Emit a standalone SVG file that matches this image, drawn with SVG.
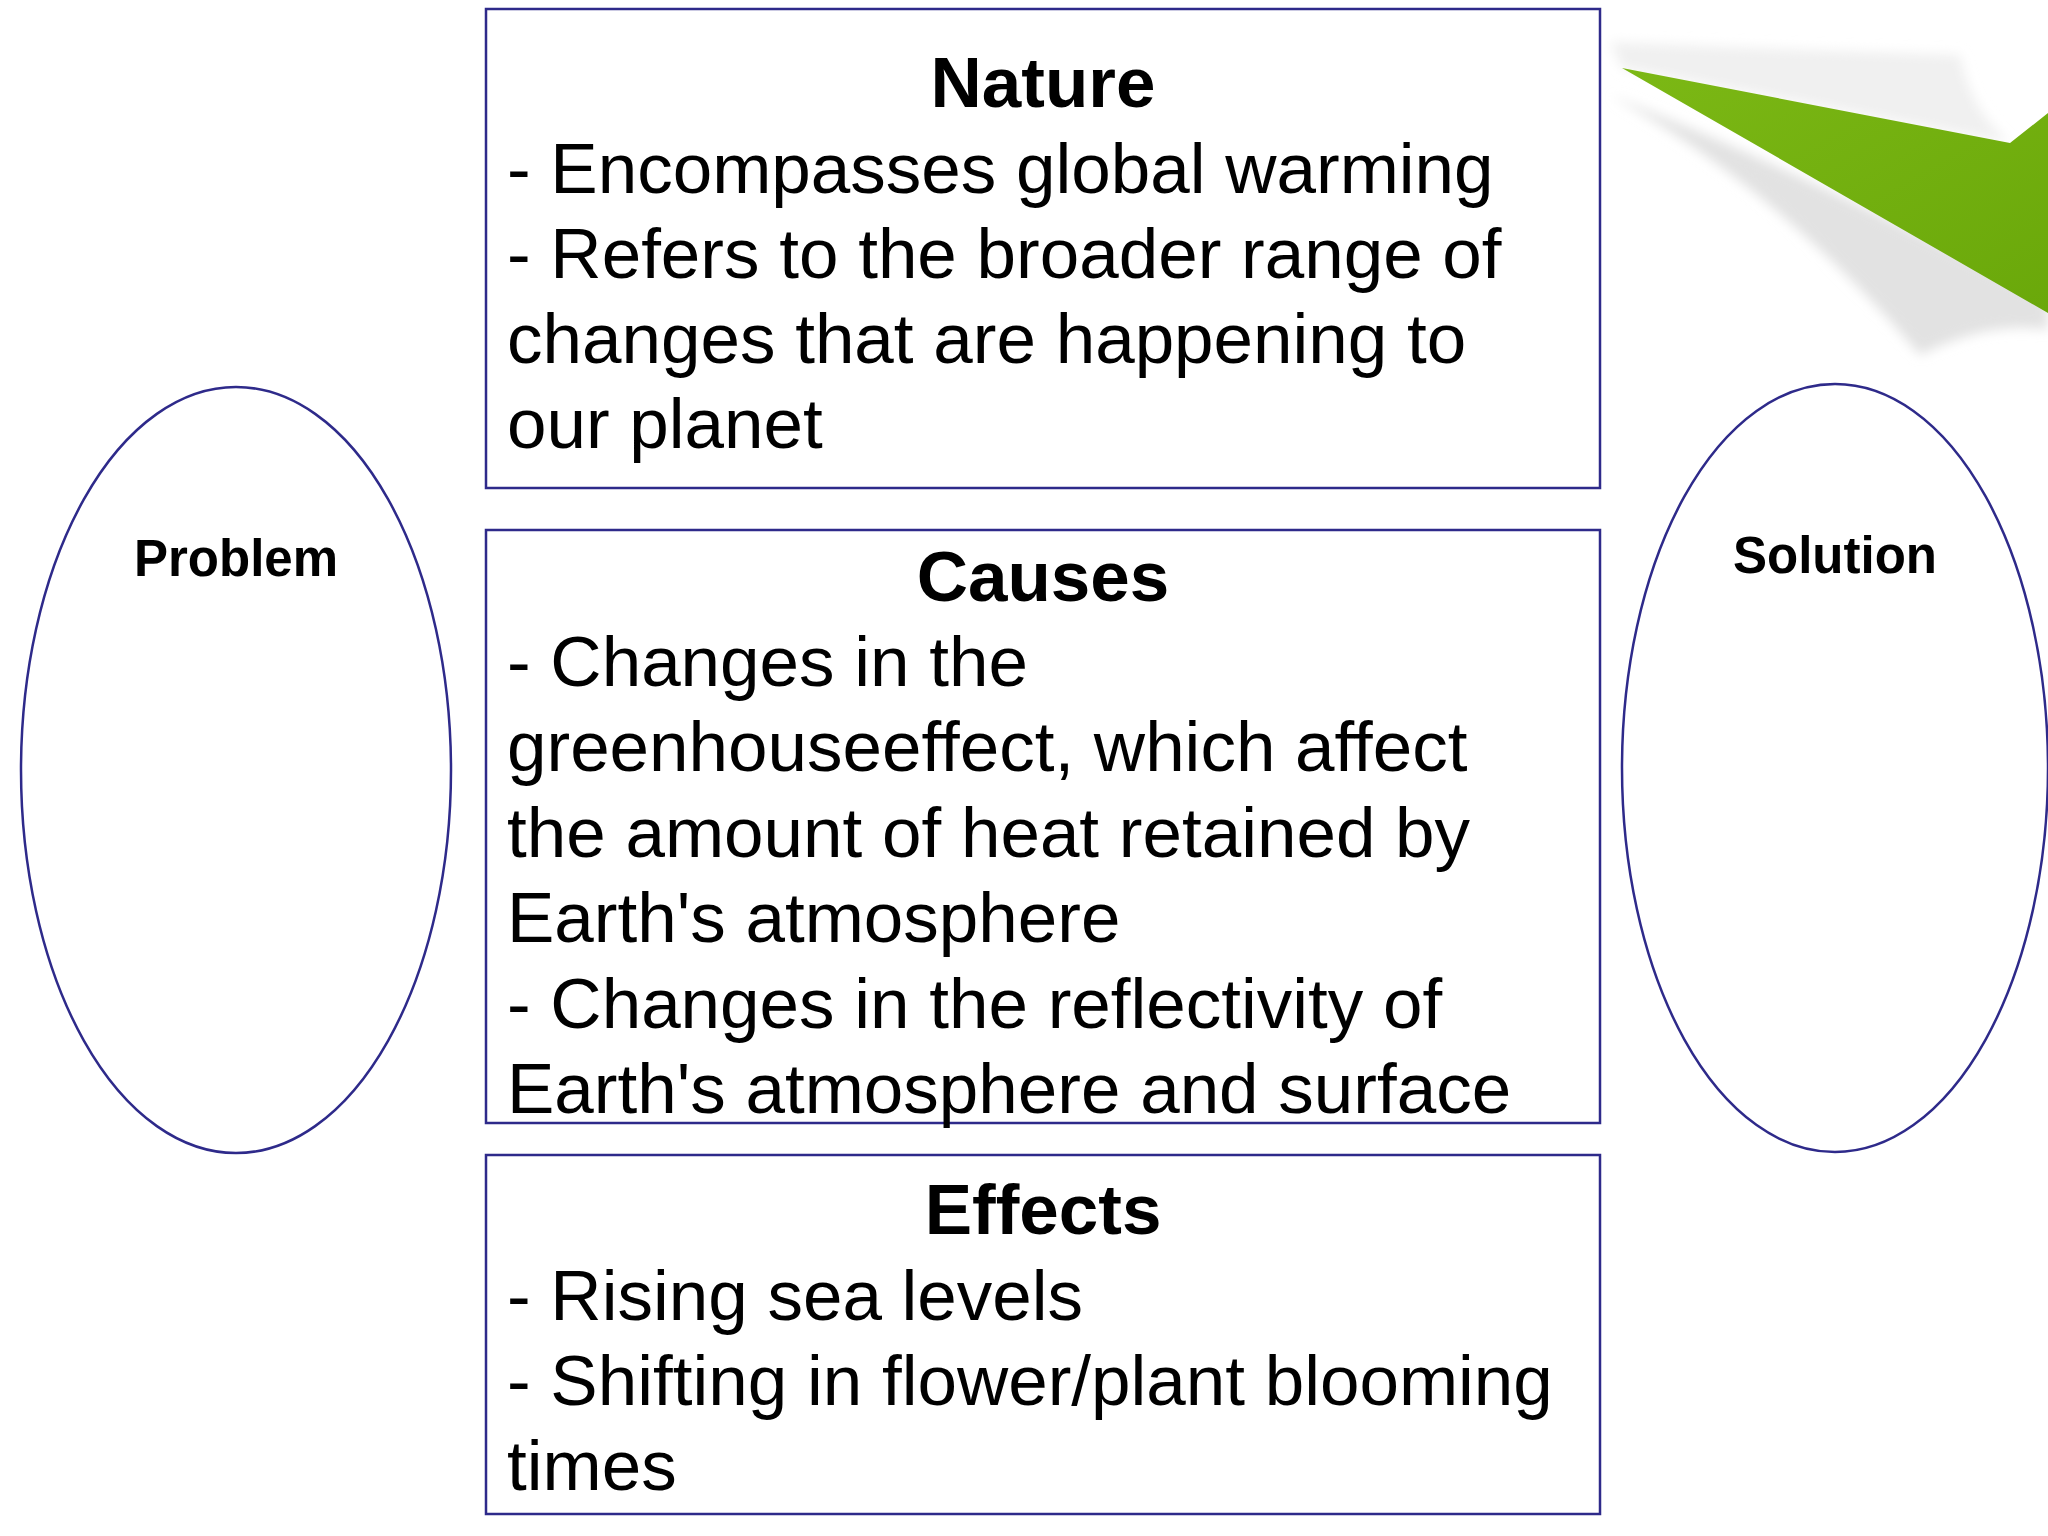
<svg xmlns="http://www.w3.org/2000/svg" width="2048" height="1536" viewBox="0 0 2048 1536">
<style>
.box{fill:#fff;stroke:#2e2a8a;stroke-width:2.5}
.t{font-family:"Liberation Sans",Arial,sans-serif;font-size:71px;fill:#000}
.h{font-weight:bold;text-anchor:middle}
.l{font-family:"Liberation Sans",Arial,sans-serif;font-size:51px;font-weight:bold;text-anchor:middle}
</style>
<defs>
<linearGradient id="g" x1="0" y1="0" x2="1" y2="1"><stop offset="0" stop-color="#7cb815"/><stop offset="1" stop-color="#6aa80a"/></linearGradient>
<filter id="b"><feGaussianBlur stdDeviation="6"/></filter>
</defs>
<rect width="2048" height="1536" fill="#fff"/>
<g id="curl">
<path d="M1610,95 Q1780,190 1920,355 Q1990,320 2048,330 L2048,300 Q1800,170 1610,95Z" fill="#e2e2e2" filter="url(#b)"/>
<path d="M1610,42 Q1800,50 1960,55 Q1970,110 2010,143 L1622,68 Z" fill="#f0f0f0" filter="url(#b)"/>
<polygon points="1622,68 2010,143 2048,113 2048,313" fill="url(#g)"/>
</g>
<g id="nature">
<rect class="box" x="486" y="9" width="1114" height="479"/>
<text class="t h" x="1043" y="107">Nature</text>
<text class="t" x="507" y="193">- Encompasses global warming</text>
<text class="t" x="507" y="278">- Refers to the broader range of</text>
<text class="t" x="507" y="363">changes that are happening to</text>
<text class="t" x="507" y="448">our planet</text>
</g>
<g id="causes">
<rect class="box" x="486" y="530" width="1114" height="593"/>
<text class="t h" x="1043" y="601">Causes</text>
<text class="t" x="507" y="686">- Changes in the</text>
<text class="t" x="507" y="771">greenhouseeffect, which affect</text>
<text class="t" x="507" y="857">the amount of heat retained by</text>
<text class="t" x="507" y="942">Earth's atmosphere</text>
<text class="t" x="507" y="1028">- Changes in the reflectivity of</text>
<text class="t" x="507" y="1113">Earth's atmosphere and surface</text>
</g>
<g id="effects">
<rect class="box" x="486" y="1155" width="1114" height="359"/>
<text class="t h" x="1043" y="1234">Effects</text>
<text class="t" x="507" y="1320">- Rising sea levels</text>
<text class="t" x="507" y="1405">- Shifting in flower/plant blooming</text>
<text class="t" x="507" y="1490">times</text>
</g>
<g id="problem">
<ellipse class="box" cx="236" cy="770" rx="215" ry="383"/>
<text class="l" x="236" y="576">Problem</text>
</g>
<g id="solution">
<ellipse class="box" cx="1835" cy="768" rx="213" ry="384"/>
<text class="l" x="1835" y="573">Solution</text>
</g>
<g id="connectors"/>
</svg>
